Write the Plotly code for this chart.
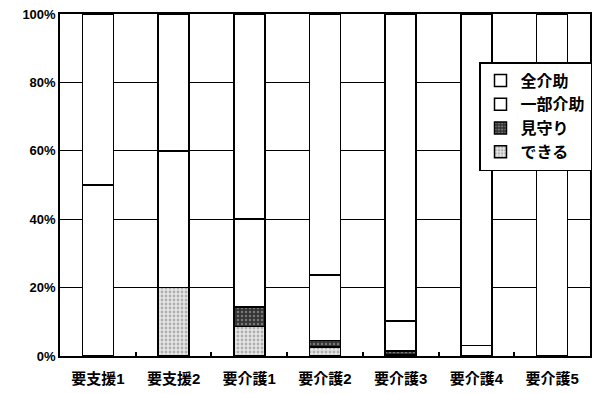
import plotly.graph_objects as go

categories = ["要支援1", "要支援2", "要介護1", "要介護2", "要介護3", "要介護4", "要介護5"]
dekiru = [0, 20, 8.6, 2.6, 0.3, 0, 0]
mimamori = [0, 0, 5.7, 1.9, 1.2, 0, 0]
ichibu = [50, 40, 25.7, 19.2, 8.8, 3, 0]
zen = [50, 40, 60, 76.3, 89.7, 97, 100]
y_ticks = [0, 20, 40, 60, 80, 100]
y_labels = ["0%", "20%", "40%", "60%", "80%", "100%"]

font_family = "Liberation Sans, Noto Sans CJK JP, sans-serif"

fig = go.Figure()
fig.add_trace(go.Bar(
    x=categories, y=dekiru, name="できる", legendrank=4,
    marker=dict(color="#d8d8d8", line=dict(color="black", width=1.5),
                pattern=dict(shape=".", fgcolor="#777", bgcolor="#e6e6e6", size=4, solidity=0.4)),
))
fig.add_trace(go.Bar(
    x=categories, y=mimamori, name="見守り", legendrank=3,
    marker=dict(color="#555", line=dict(color="black", width=1.5),
                pattern=dict(shape=".", fgcolor="#bbb", bgcolor="#333", size=4, solidity=0.3)),
))
fig.add_trace(go.Bar(
    x=categories, y=ichibu, name="一部介助", legendrank=2,
    marker=dict(color="white", line=dict(color="black", width=1.5)),
))
fig.add_trace(go.Bar(
    x=categories, y=zen, name="全介助", legendrank=1,
    marker=dict(color="white", line=dict(color="black", width=1.5)),
))

fig.update_layout(
    barmode="stack",
    bargap=0.59,
    width=598, height=394,
    margin=dict(l=60, r=7, t=14, b=38),
    paper_bgcolor="white",
    plot_bgcolor="white",
    font=dict(family=font_family, color="black", size=13),
    showlegend=True,
    legend=dict(
        x=(479 - 60) / 531, y=(356 - 62) / 342, xanchor="left", yanchor="top",
        traceorder="normal",
        bgcolor="white", bordercolor="black", borderwidth=1.5,
        font=dict(size=16, weight="bold"),
        itemwidth=30,
    ),
)
fig.update_xaxes(
    automargin=False,
    showline=True, linecolor="black", linewidth=1.5, mirror=True,
    tickson="boundaries", ticks="inside", ticklen=4, tickcolor="black", tickwidth=1.5,
    tickfont=dict(size=15, weight="bold"), ticklabelstandoff=8,
)
fig.update_yaxes(
    automargin=False,
    range=[0, 100], tickvals=y_ticks, ticktext=y_labels,
    showline=True, linecolor="black", linewidth=1.5, mirror=True,
    showgrid=True, gridcolor="black", gridwidth=1,
    tickfont=dict(size=13, weight="bold"),
    ticks="", zeroline=False,
)

# drop the default body margin so the figure sits at the page corner
fig.write_html("out.html", config={"displayModeBar": False},
               post_script="document.body.style.margin='0';")
